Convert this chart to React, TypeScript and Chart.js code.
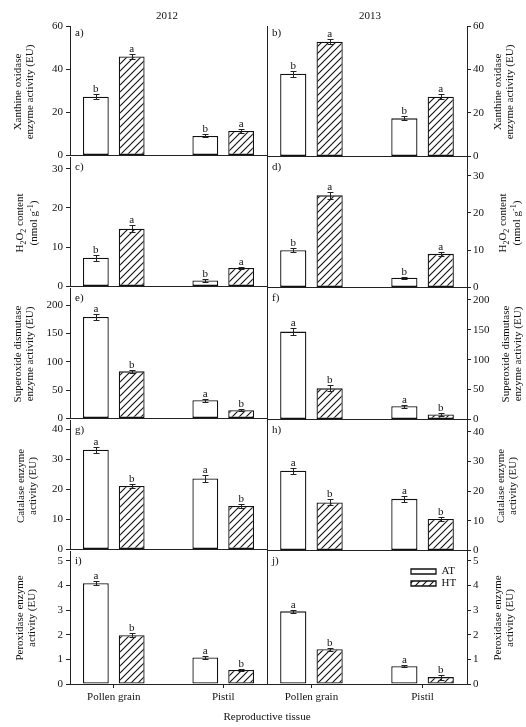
import React, { useEffect, useRef } from "react";
import { Chart, registerables } from "chart.js";

Chart.register(...registerables);

const FONT = "'Liberation Serif', 'Times New Roman', serif";
Chart.defaults.font.family = FONT;
Chart.defaults.font.size = 11;
Chart.defaults.color = "#111";

// ---------- data ----------
const tissues = ["Pollen grain", "Pistil"];
const seriesNames = ["AT", "HT"];
const years = ["2012", "2013"];
const xAxisTitle = "Reproductive tissue";
const panelLabels = ["a)", "b)", "c)", "d)", "e)", "f)", "g)", "h)", "i)", "j)"];

// a) Xanthine oxidase 2012
const xo12AT = [27.2, 9.0];
const xo12HT = [45.9, 11.3];
const xo12ATErr = [1.2, 0.7];
const xo12HTErr = [1.0, 0.8];
const xo12ATLet = ["b", "b"];
const xo12HTLet = ["a", "a"];
// b) Xanthine oxidase 2013
const xo13AT = [38.0, 17.5];
const xo13HT = [52.8, 27.5];
const xo13ATErr = [1.3, 0.9];
const xo13HTErr = [1.2, 1.1];
const xo13ATLet = ["b", "b"];
const xo13HTLet = ["a", "a"];
// c) H2O2 2012
const h2o12AT = [7.3, 1.5];
const h2o12HT = [14.7, 4.7];
const h2o12ATErr = [0.8, 0.3];
const h2o12HTErr = [0.9, 0.3];
const h2o12ATLet = ["b", "b"];
const h2o12HTLet = ["a", "a"];
// d) H2O2 2013
const h2o13AT = [10.0, 2.6];
const h2o13HT = [24.7, 9.0];
const h2o13ATErr = [0.6, 0.3];
const h2o13HTErr = [1.0, 0.5];
const h2o13ATLet = ["b", "b"];
const h2o13HTLet = ["a", "a"];
// e) SOD 2012
const sod12AT = [179, 32];
const sod12HT = [83, 14.5];
const sod12ATErr = [6, 3];
const sod12HTErr = [3, 2];
const sod12ATLet = ["a", "a"];
const sod12HTLet = ["b", "b"];
// f) SOD 2013
const sod13AT = [147, 22];
const sod13HT = [52, 8.3];
const sod13ATErr = [6, 2.5];
const sod13HTErr = [5, 2];
const sod13ATLet = ["a", "a"];
const sod13HTLet = ["b", "b"];
// g) Catalase 2012
const cat12AT = [33.1, 23.6];
const cat12HT = [21.1, 14.4];
const cat12ATErr = [1.0, 1.2];
const cat12HTErr = [0.6, 0.6];
const cat12ATLet = ["a", "a"];
const cat12HTLet = ["b", "b"];
// h) Catalase 2013
const cat13AT = [26.9, 17.4];
const cat13HT = [16.2, 10.6];
const cat13ATErr = [1.0, 0.9];
const cat13HTErr = [1.0, 0.8];
const cat13ATLet = ["a", "a"];
const cat13HTLet = ["b", "b"];
// i) Peroxidase 2012
const pod12AT = [4.09, 1.08];
const pod12HT = [1.98, 0.57];
const pod12ATErr = [0.08, 0.05];
const pod12HTErr = [0.08, 0.04];
const pod12ATLet = ["a", "a"];
const pod12HTLet = ["b", "b"];
// j) Peroxidase 2013
const pod13AT = [2.95, 0.72];
const pod13HT = [1.41, 0.28];
const pod13ATErr = [0.06, 0.04];
const pod13HTErr = [0.05, 0.1];
const pod13ATLet = ["a", "a"];
const pod13HTLet = ["b", "b"];

// y axis ranges per panel
const yMax = [60, 60, 33, 35, 230, 220, 43, 44, 5.4, 5.4];
const yStep = [20, 20, 10, 10, 50, 50, 10, 10, 1, 1];

// ---------- layout ----------
const ROW_EDGES = [26, 157, 288, 420, 551, 684];
const TITLE_X_LEFT = [23, 25, 23, 26, 24.5];
const TITLE_X_RIGHT = [503, 508, 511, 506, 503];

const sub = (t: string) => (
  <span style={{ fontSize: 8, position: "relative", top: 3 }}>{t}</span>
);
const sup = (t: string) => (
  <span style={{ fontSize: 8, position: "relative", top: -4 }}>{t}</span>
);

const yTitles: React.ReactNode[][] = [
  ["Xanthine oxidase", "enzyme activity (EU)"],
  [
    <>H{sub("2")}O{sub("2")} content</>,
    <>(nmol g{sup("-1")})</>,
  ],
  ["Superoxide dismutase", "enzyme activity (EU)"],
  ["Catalase enzyme", "activity (EU)"],
  ["Peroxidase enzyme", "activity (EU)"],
];

type PanelCfg = {
  idx: number;
  at: number[];
  ht: number[];
  atErr: number[];
  htErr: number[];
  atLet: string[];
  htLet: string[];
};

const panels: PanelCfg[] = [
  { idx: 0, at: xo12AT, ht: xo12HT, atErr: xo12ATErr, htErr: xo12HTErr, atLet: xo12ATLet, htLet: xo12HTLet },
  { idx: 1, at: xo13AT, ht: xo13HT, atErr: xo13ATErr, htErr: xo13HTErr, atLet: xo13ATLet, htLet: xo13HTLet },
  { idx: 2, at: h2o12AT, ht: h2o12HT, atErr: h2o12ATErr, htErr: h2o12HTErr, atLet: h2o12ATLet, htLet: h2o12HTLet },
  { idx: 3, at: h2o13AT, ht: h2o13HT, atErr: h2o13ATErr, htErr: h2o13HTErr, atLet: h2o13ATLet, htLet: h2o13HTLet },
  { idx: 4, at: sod12AT, ht: sod12HT, atErr: sod12ATErr, htErr: sod12HTErr, atLet: sod12ATLet, htLet: sod12HTLet },
  { idx: 5, at: sod13AT, ht: sod13HT, atErr: sod13ATErr, htErr: sod13HTErr, atLet: sod13ATLet, htLet: sod13HTLet },
  { idx: 6, at: cat12AT, ht: cat12HT, atErr: cat12ATErr, htErr: cat12HTErr, atLet: cat12ATLet, htLet: cat12HTLet },
  { idx: 7, at: cat13AT, ht: cat13HT, atErr: cat13ATErr, htErr: cat13HTErr, atLet: cat13ATLet, htLet: cat13HTLet },
  { idx: 8, at: pod12AT, ht: pod12HT, atErr: pod12ATErr, htErr: pod12HTErr, atLet: pod12ATLet, htLet: pod12HTLet },
  { idx: 9, at: pod13AT, ht: pod13HT, atErr: pod13ATErr, htErr: pod13HTErr, atLet: pod13ATLet, htLet: pod13HTLet },
];

function makeHatch(ctx: CanvasRenderingContext2D) {
  const s = 7;
  const c = document.createElement("canvas");
  c.width = s;
  c.height = s;
  const g = c.getContext("2d")!;
  g.fillStyle = "#fff";
  g.fillRect(0, 0, s, s);
  g.strokeStyle = "#111";
  g.lineWidth = 1.1;
  g.beginPath();
  g.moveTo(-1, s + 1);
  g.lineTo(s + 1, -1);
  g.moveTo(-1, 1);
  g.lineTo(1, -1);
  g.moveTo(s - 1, s + 1);
  g.lineTo(s + 1, s - 1);
  g.stroke();
  return ctx.createPattern(c, "repeat")!;
}

const AXIS_COLOR = "#222";

function Panel({ cfg }: { cfg: PanelCfg }) {
  const ref = useRef<HTMLCanvasElement>(null);
  const col = cfg.idx % 2;
  const row = Math.floor(cfg.idx / 2);
  const rowTop = ROW_EDGES[row];
  const rowBottom = ROW_EDGES[row + 1];
  const isBottom = row === 4;
  const left = col === 0 ? 0 : 264;
  const width = col === 0 ? 270 : 262;
  const top = rowTop - 10;
  const height = rowBottom - rowTop + 10 + (isBottom ? 30 : 8);
  const showLegend = cfg.idx === 9;

  useEffect(() => {
    const canvas = ref.current!;
    const ctx = canvas.getContext("2d")!;
    const hatch = makeHatch(ctx);
    const font = { family: FONT, size: 11 };

    const overlay = {
      id: "errAndLabels",
      afterLayout(chart: any) {
        if (showLegend && chart.legend) {
          const lg = chart.legend;
          const ca = chart.chartArea;
          lg.left = ca.left + 143;
          lg.top = ca.top + 14;
          lg.right = lg.left + lg.width;
          lg.bottom = lg.top + lg.height;
        }
      },
      afterDatasetsDraw(chart: any) {
        const c = chart.ctx as CanvasRenderingContext2D;
        const yS = chart.scales.y;
        const sets: [number[], number[], string[]][] = [
          [cfg.at, cfg.atErr, cfg.atLet],
          [cfg.ht, cfg.htErr, cfg.htLet],
        ];
        sets.forEach(([vals, errs, lets], di) => {
          const meta = chart.getDatasetMeta(di);
          meta.data.forEach((el: any, j: number) => {
            const x = Math.round(el.x) + 0.5;
            const yT = Math.round(yS.getPixelForValue(vals[j] + errs[j])) + 0.5;
            const yB = Math.round(yS.getPixelForValue(vals[j] - errs[j])) + 0.5;
            c.save();
            c.strokeStyle = AXIS_COLOR;
            c.lineWidth = 1;
            c.beginPath();
            c.moveTo(x, yT);
            c.lineTo(x, yB);
            c.moveTo(x - 3, yT);
            c.lineTo(x + 3, yT);
            c.moveTo(x - 3, yB);
            c.lineTo(x + 3, yB);
            c.stroke();
            c.fillStyle = "#111";
            c.font = `11px ${FONT}`;
            c.textAlign = "center";
            c.textBaseline = "alphabetic";
            c.fillText(lets[j], el.x, yT - 2.5);
            c.restore();
          });
        });
        const ca = chart.chartArea;
        c.save();
        c.fillStyle = "#111";
        c.font = `11px ${FONT}`;
        c.textAlign = "left";
        c.textBaseline = "middle";
        c.fillText(panelLabels[cfg.idx], ca.left + 5, ca.top + (row === 0 ? 7 : 10));
        c.restore();
      },
    };

    const chart = new Chart(ctx, {
      type: "bar",
      data: {
        datasets: [
          {
            label: seriesNames[0],
            data: cfg.at.map((y, i) => ({ x: i, y })),
            backgroundColor: "#fff",
            borderColor: "#111",
            borderWidth: 1.3,
            borderSkipped: false,
            yAxisID: "y",
            xAxisID: "x",
          },
          {
            label: seriesNames[1],
            data: cfg.ht.map((y, i) => ({ x: i, y })),
            backgroundColor: hatch,
            borderColor: "#111",
            borderWidth: 1.3,
            borderSkipped: false,
            yAxisID: "y",
            xAxisID: "x",
          },
        ],
      },
      options: {
        responsive: false,
        animation: false,
        events: [],
        datasets: { bar: { categoryPercentage: 0.655, barPercentage: 0.72 } },
        layout: {
          padding: {
            top: 10,
            bottom: isBottom ? 0 : 8,
            left: col === 1 ? 3 : 0,
            right: col === 0 ? 3 : 0,
          },
        },
        plugins: {
          tooltip: { enabled: false },
          title: { display: false },
          legend: showLegend
            ? {
                display: true,
                position: "chartArea",
                align: "start",
                labels: {
                  boxWidth: 25,
                  boxHeight: 5,
                  padding: 1,
                  font,
                  color: "#111",
                },
              }
            : { display: false },
        },
        scales: {
          x: {
            type: "linear",
            min: -0.4,
            max: 1.4,
            offset: false,
            afterBuildTicks: (s: any) => {
              s.ticks = tissues.map((_, i) => ({ value: i }));
            },
            afterFit: (s: any) => {
              s.height = isBottom ? 30 : 0;
            },
            ticks: {
              display: isBottom,
              font,
              color: "#111",
              padding: 3,
              maxRotation: 0,
              autoSkip: false,
              callback: (v: any) => tissues[Math.round(Number(v))],
            },
            grid: {
              display: isBottom,
              offset: false,
              drawOnChartArea: false,
              drawTicks: true,
              tickLength: 4,
              color: AXIS_COLOR,
            },
            border: { display: true, color: AXIS_COLOR, width: 1 },
          },
          y: {
            type: "linear",
            position: col === 0 ? "left" : "right",
            min: 0,
            max: yMax[cfg.idx],
            afterFit: (s: any) => {
              s.width = col === 0 ? 70 : 59;
            },
            ticks: {
              stepSize: yStep[cfg.idx],
              includeBounds: false,
              font,
              color: "#111",
              padding: col === 0 ? 3 : 2,
            },
            grid: {
              display: true,
              drawOnChartArea: false,
              drawTicks: true,
              tickLength: 4,
              color: AXIS_COLOR,
            },
            border: { display: true, color: AXIS_COLOR, width: 1 },
          },
          yEdge: {
            type: "linear",
            axis: "y",
            position: col === 0 ? "right" : "left",
            min: 0,
            max: 1,
            afterFit: (s: any) => {
              s.width = 0;
            },
            ticks: { display: false },
            grid: { display: false },
            border: { display: true, color: AXIS_COLOR, width: 1 },
          },
        },
      } as any,
      plugins: [overlay as any],
    });
    return () => chart.destroy();
  }, []);

  return (
    <canvas
      ref={ref}
      width={width}
      height={height}
      style={{ position: "absolute", left, top, width, height, display: "block" }}
    />
  );
}

const textStyle: React.CSSProperties = {
  position: "absolute",
  fontFamily: FONT,
  fontSize: 11,
  color: "#111",
  whiteSpace: "nowrap",
  textAlign: "center",
};

function YTitle({ row, col }: { row: number; col: number }) {
  const cx = col === 0 ? TITLE_X_LEFT[row] : TITLE_X_RIGHT[row];
  const cy = (ROW_EDGES[row] + ROW_EDGES[row + 1]) / 2;
  const w = 160;
  const h = 24;
  const lines = yTitles[row];
  return (
    <div
      style={{
        ...textStyle,
        left: cx - w / 2,
        top: cy - h / 2,
        width: w,
        height: h,
        lineHeight: "12px",
        transform: "rotate(-90deg)",
      }}
    >
      <div>{lines[0]}</div>
      <div>{lines[1]}</div>
    </div>
  );
}

export default function App() {
  return (
    <div
      style={{
        position: "absolute",
        left: 0,
        top: 0,
        width: 526,
        height: 727,
        background: "#fff",
        overflow: "hidden",
      }}
    >
      {panels.map((p) => (
        <Panel key={p.idx} cfg={p} />
      ))}
      {[0, 1, 2, 3, 4].map((r) => (
        <React.Fragment key={r}>
          <YTitle row={r} col={0} />
          <YTitle row={r} col={1} />
        </React.Fragment>
      ))}
      <div style={{ ...textStyle, left: 167 - 40, top: 8, width: 80, lineHeight: "14px" }}>{years[0]}</div>
      <div style={{ ...textStyle, left: 370 - 40, top: 8, width: 80, lineHeight: "14px" }}>{years[1]}</div>
      <div style={{ ...textStyle, left: 267 - 80, top: 709, width: 160, lineHeight: "14px" }}>{xAxisTitle}</div>
    </div>
  );
}
